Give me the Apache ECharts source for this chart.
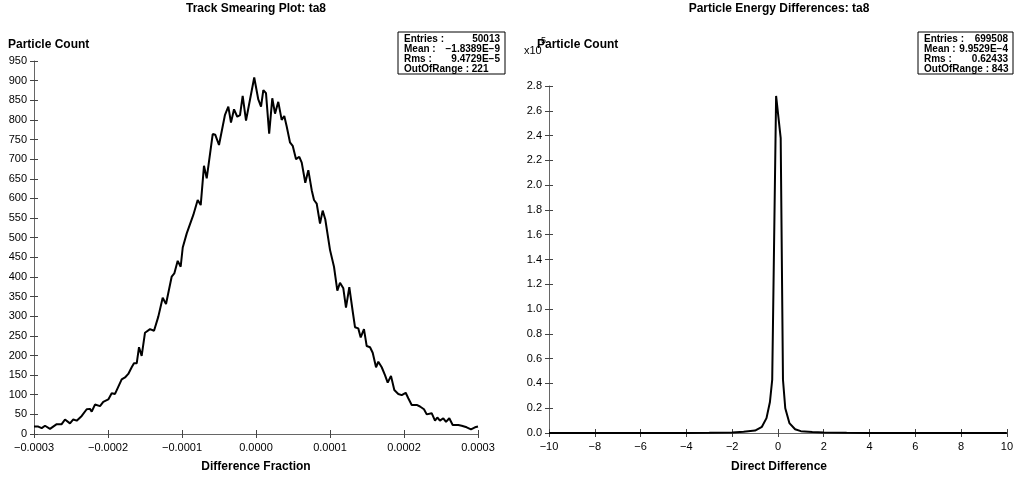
<!DOCTYPE html>
<html>
<head>
<meta charset="utf-8">
<script src="https://cdn.jsdelivr.net/npm/echarts@6/dist/echarts.min.js"></script>
<style>
html,body{margin:0;padding:0;background:#fff;}
#c{width:1016px;height:479px;}
</style>
</head>
<body>
<div id="c"></div>
<script>
// ---- Left chart: Track Smearing Plot (difference fraction vs particle count) ----
const smearX = [
-3.00e-4,-2.942e-4,-2.896e-4,-2.851e-4,-2.784e-4,-2.693e-4,-2.626e-4,-2.581e-4,-2.514e-4,-2.469e-4,
-2.423e-4,-2.355e-4,-2.288e-4,-2.243e-4,-2.220e-4,-2.176e-4,-2.108e-4,-2.064e-4,-1.996e-4,-1.950e-4,
-1.905e-4,-1.815e-4,-1.770e-4,-1.726e-4,-1.680e-4,-1.649e-4,-1.612e-4,-1.581e-4,-1.545e-4,-1.500e-4,
-1.432e-4,-1.378e-4,-1.320e-4,-1.261e-4,-1.216e-4,-1.139e-4,-1.104e-4,-1.058e-4,-1.018e-4,-0.990e-4,
-0.936e-4,-0.847e-4,-0.788e-4,-0.747e-4,-0.703e-4,-0.666e-4,-0.585e-4,-0.550e-4,-0.500e-4,-0.419e-4,
-0.374e-4,-0.338e-4,-0.297e-4,-0.253e-4,-0.216e-4,-0.180e-4,-0.135e-4,-0.104e-4,-0.024e-4,0.031e-4,
0.068e-4,0.099e-4,0.135e-4,0.178e-4,0.220e-4,0.257e-4,0.301e-4,0.347e-4,0.382e-4,0.415e-4,
0.459e-4,0.496e-4,0.541e-4,0.585e-4,0.618e-4,0.666e-4,0.707e-4,0.753e-4,0.784e-4,0.820e-4,
0.865e-4,0.901e-4,0.936e-4,1.000e-4,1.054e-4,1.099e-4,1.135e-4,1.180e-4,1.216e-4,1.261e-4,
1.307e-4,1.338e-4,1.382e-4,1.415e-4,1.459e-4,1.496e-4,1.541e-4,1.577e-4,1.622e-4,1.653e-4,
1.699e-4,1.743e-4,1.780e-4,1.824e-4,1.869e-4,1.923e-4,1.969e-4,2.023e-4,2.058e-4,2.104e-4,
2.172e-4,2.216e-4,2.270e-4,2.307e-4,2.374e-4,2.419e-4,2.450e-4,2.486e-4,2.531e-4,2.568e-4,
2.612e-4,2.658e-4,2.734e-4,2.780e-4,2.847e-4,2.905e-4,2.959e-4,3.00e-4
];
const smearCount = [
19,19,15,21,13,25,25,37,27,37,
34,46,63,64,57,75,71,82,88,104,
102,139,144,153,170,180,180,221,199,258,
267,263,299,347,331,401,409,441,426,475,
511,558,596,583,683,651,764,762,736,813,
834,793,827,808,812,861,798,829,908,852,
834,876,868,765,855,816,846,800,810,783,
743,734,700,706,691,640,672,621,596,587,
536,569,547,469,426,365,385,371,322,374,
312,272,269,246,267,224,221,207,170,184,
170,150,131,148,112,102,99,105,91,74,
74,70,63,50,53,34,42,34,40,31,
40,23,23,21,17,12,17,19
];
const smearStats = [["Entries :", "50013"], ["Mean :", "\u22121.8389E\u22129"], ["Rms :", "9.4729E\u22125"]];
const smearOut = "OutOfRange : 221";

// ---- Right chart: Particle Energy Differences ----
const energyX = [-10,-6,-4,-3,-2,-1.5,-1,-0.7,-0.5,-0.35,-0.25,-0.08,0.12,0.22,0.32,0.5,0.75,1,1.5,2,3,4,6,10];
const energyCount = [0,30,100,200,500,1000,2000,5000,12000,25000,43000,272000,238000,43000,20000,8000,3000,1500,800,400,200,100,30,0];
const energyStats = [["Entries :", "699508"], ["Mean :", "9.9529E\u22124"], ["Rms :", "0.62433"]];
const energyOut = "OutOfRange : 843";

const FONT = '"Liberation Sans", Arial, Helvetica, sans-serif';
const minus = s => s.replace(/-/g, '\u2212');

const chart = echarts.init(document.getElementById('c'), null, {renderer: 'canvas'});

function axisPair(base, grid, labelFmt, margin) {
  const common = Object.assign({gridIndex: grid, type: 'value', splitLine: {show: false}}, base);
  const outer = Object.assign({}, common, {
    axisLine: {show: true, onZero: false, lineStyle: {color: '#666', width: 1}},
    axisTick: {show: true, length: 4, lineStyle: {color: '#444', width: 1}},
    axisLabel: {show: true, color: '#000', fontSize: 11, fontFamily: FONT, margin: margin, formatter: labelFmt, showMinLabel: true, showMaxLabel: true},
  });
  const inner = Object.assign({}, common, {
    axisLine: {show: false, onZero: false},
    axisTick: {show: true, inside: true, length: 4, lineStyle: {color: '#444', width: 1}},
    axisLabel: {show: false},
  });
  return [outer, inner];
}

const xAxes = [].concat(
  axisPair({min: -0.0003, max: 0.0003, interval: 0.0001, position: 'bottom'}, 0,
    v => minus((Math.abs(v) < 1e-12 ? 0 : v).toFixed(4)), 8),
  axisPair({min: -10, max: 10, interval: 2, position: 'bottom'}, 1,
    v => minus(String(v)), 8)
);
const yAxes = [].concat(
  axisPair({min: 0, max: 950, interval: 50, position: 'left'}, 0, v => String(v), 7),
  axisPair({min: 0, max: 280000, interval: 20000, position: 'left'}, 1, v => (v / 1e5).toFixed(1), 7)
);

function statBox(x, y, w, h, rows, outText, valRight) {
  const f = 'bold 10px ' + FONT;
  const els = [{type: 'rect', shape: {x: x, y: y, width: w, height: h}, style: {fill: '#fff', stroke: '#000', lineWidth: 1}, z: 10}];
  rows.forEach((r, i) => {
    els.push({type: 'text', z: 11, style: {text: r[0], x: x + 6, y: y + 7 + i * 10.2, font: f, fill: '#000', align: 'left', verticalAlign: 'middle'}});
    els.push({type: 'text', z: 11, style: {text: r[1], x: valRight, y: y + 7 + i * 10.2, font: f, fill: '#000', align: 'right', verticalAlign: 'middle'}});
  });
  els.push({type: 'text', z: 11, style: {text: outText, x: x + 6, y: y + 7 + 30.6, font: f, fill: '#000', align: 'left', verticalAlign: 'middle'}});
  return els;
}

function txt(t, x, y, font, align) {
  return {type: 'text', z: 12, style: {text: t, x: x, y: y, font: font, fill: '#000', align: align || 'center', verticalAlign: 'middle'}};
}

const graphics = [
  txt('Track Smearing Plot: ta8', 256, 9, 'bold 12px ' + FONT),
  txt('Particle Count', 8, 45, 'bold 12px ' + FONT, 'left'),
  txt('Difference Fraction', 256, 467, 'bold 12px ' + FONT),
  txt('Particle Energy Differences: ta8', 779, 9, 'bold 12px ' + FONT),
  txt('x10', 524, 51, '11px ' + FONT, 'left'),
  txt('5', 541, 41, '9px ' + FONT, 'left'),
  txt('Particle Count', 537, 45, 'bold 12px ' + FONT, 'left'),
  txt('Direct Difference', 779, 467, 'bold 12px ' + FONT),
].concat(statBox(398, 32, 107, 42, smearStats, smearOut, 500))
 .concat(statBox(918, 32, 95, 42, energyStats, energyOut, 1008));

chart.setOption({
  animation: false,
  backgroundColor: '#fff',
  grid: [
    {left: 34, top: 61, width: 444, height: 373, containLabel: false},
    {left: 549, top: 86, width: 459, height: 347, containLabel: false}
  ],
  xAxis: xAxes,
  yAxis: yAxes,
  series: [
    {type: 'line', xAxisIndex: 0, yAxisIndex: 0, showSymbol: false, symbol: 'none',
     lineStyle: {color: '#000', width: 2}, data: smearX.map((x, i) => [x, smearCount[i]]), z: 5},
    {type: 'line', xAxisIndex: 2, yAxisIndex: 2, showSymbol: false, symbol: 'none',
     lineStyle: {color: '#000', width: 2}, data: energyX.map((x, i) => [x, energyCount[i]]), z: 5}
  ],
  graphic: graphics
});
</script>
</body>
</html>
